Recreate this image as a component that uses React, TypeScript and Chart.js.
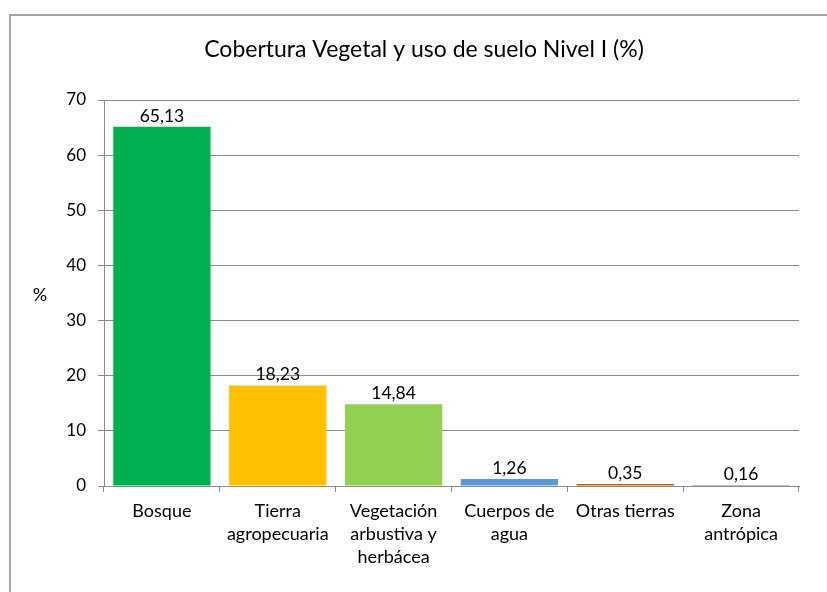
import React, { useEffect, useRef } from "react";
import { Chart, registerables } from "chart.js";

Chart.register(...registerables);

const TITLE = "Cobertura Vegetal y uso de suelo Nivel I (%)";
const categories: string[][] = [
  ["Bosque"],
  ["Tierra", "agropecuaria"],
  ["Vegetación", "arbustiva y", "herbácea"],
  ["Cuerpos de", "agua"],
  ["Otras tierras"],
  ["Zona", "antrópica"],
];
const values: number[] = [65.13, 18.23, 14.84, 1.26, 0.35, 0.16];
const valueLabels: string[] = ["65,13", "18,23", "14,84", "1,26", "0,35", "0,16"];
const barColors: string[] = ["#00b050", "#ffc000", "#92d050", "#5b9bd5", "#c55a11", "#7f7f7f"];
const yMax = 70;
const yStep = 10;
const yTitle = "%";

const FONT = "Lato, 'Open Sans', sans-serif";

const overlay = {
  id: "overlay",
  afterDatasetsDraw(chart: any) {
    const { ctx } = chart;
    const meta = chart.getDatasetMeta(0);
    ctx.save();
    ctx.fillStyle = "#000";
    ctx.font = `17.5px ${FONT}`;
    ctx.textAlign = "center";
    ctx.textBaseline = "bottom";
    meta.data.forEach((bar: any, i: number) => {
      ctx.fillText(valueLabels[i], bar.x, bar.y - 2);
    });
    // title
    ctx.font = `23px ${FONT}`;
    ctx.textBaseline = "middle";
    ctx.fillText(TITLE, 424, 50);
    // y title
    ctx.font = `18px ${FONT}`;
    ctx.fillText(yTitle, 40, 295);
    ctx.restore();
  },
};

export default function App() {
  const ref = useRef<HTMLCanvasElement | null>(null);
  useEffect(() => {
    if (!ref.current) return;
    const chart = new Chart(ref.current, {
      type: "bar",
      data: {
        labels: categories,
        datasets: [
          {
            data: values,
            backgroundColor: barColors,
            borderWidth: 0,
            barPercentage: 0.84,
            categoryPercentage: 1,
          },
        ],
      },
      options: {
        responsive: false,
        animation: false,
        layout: { padding: { top: 100, right: 28, left: 0, bottom: 0 } },
        plugins: { legend: { display: false }, title: { display: false }, tooltip: { enabled: false } },
        scales: {
          x: {
            grid: { drawOnChartArea: false, drawTicks: true, tickLength: 6, color: "#8c8c8c", offset: true },
            border: { display: true, color: "#8c8c8c", width: 1 },
            ticks: { color: "#000", font: { family: FONT, size: 18, lineHeight: 1.28 }, padding: 8, maxRotation: 0, autoSkip: false },
            afterFit(scale: any) {
              scale.height = 592 - 486;
            },
          },
          y: {
            min: 0,
            max: yMax,
            ticks: { stepSize: yStep, color: "#000", font: { family: FONT, size: 17 }, padding: 12 },
            grid: { color: "#8c8c8c", tickLength: 6, drawTicks: true },
            border: { display: true, color: "#8c8c8c", width: 1 },
            afterFit(scale: any) {
              scale.width = 104;
            },
          },
        },
      },
      plugins: [overlay],
    });
    return () => chart.destroy();
  }, []);
  return (
    <div style={{ position: "fixed", left: 0, top: 0, width: 827, height: 592, background: "#fff", overflow: "hidden" }}>
      <div
        style={{
          position: "absolute",
          left: 9,
          top: 14,
          width: 840,
          height: 600,
          border: "2px solid #a6a6a6",
        }}
      />
      <canvas ref={ref} width={827} height={592} style={{ position: "absolute", left: 0, top: 0 }} />
    </div>
  );
}
